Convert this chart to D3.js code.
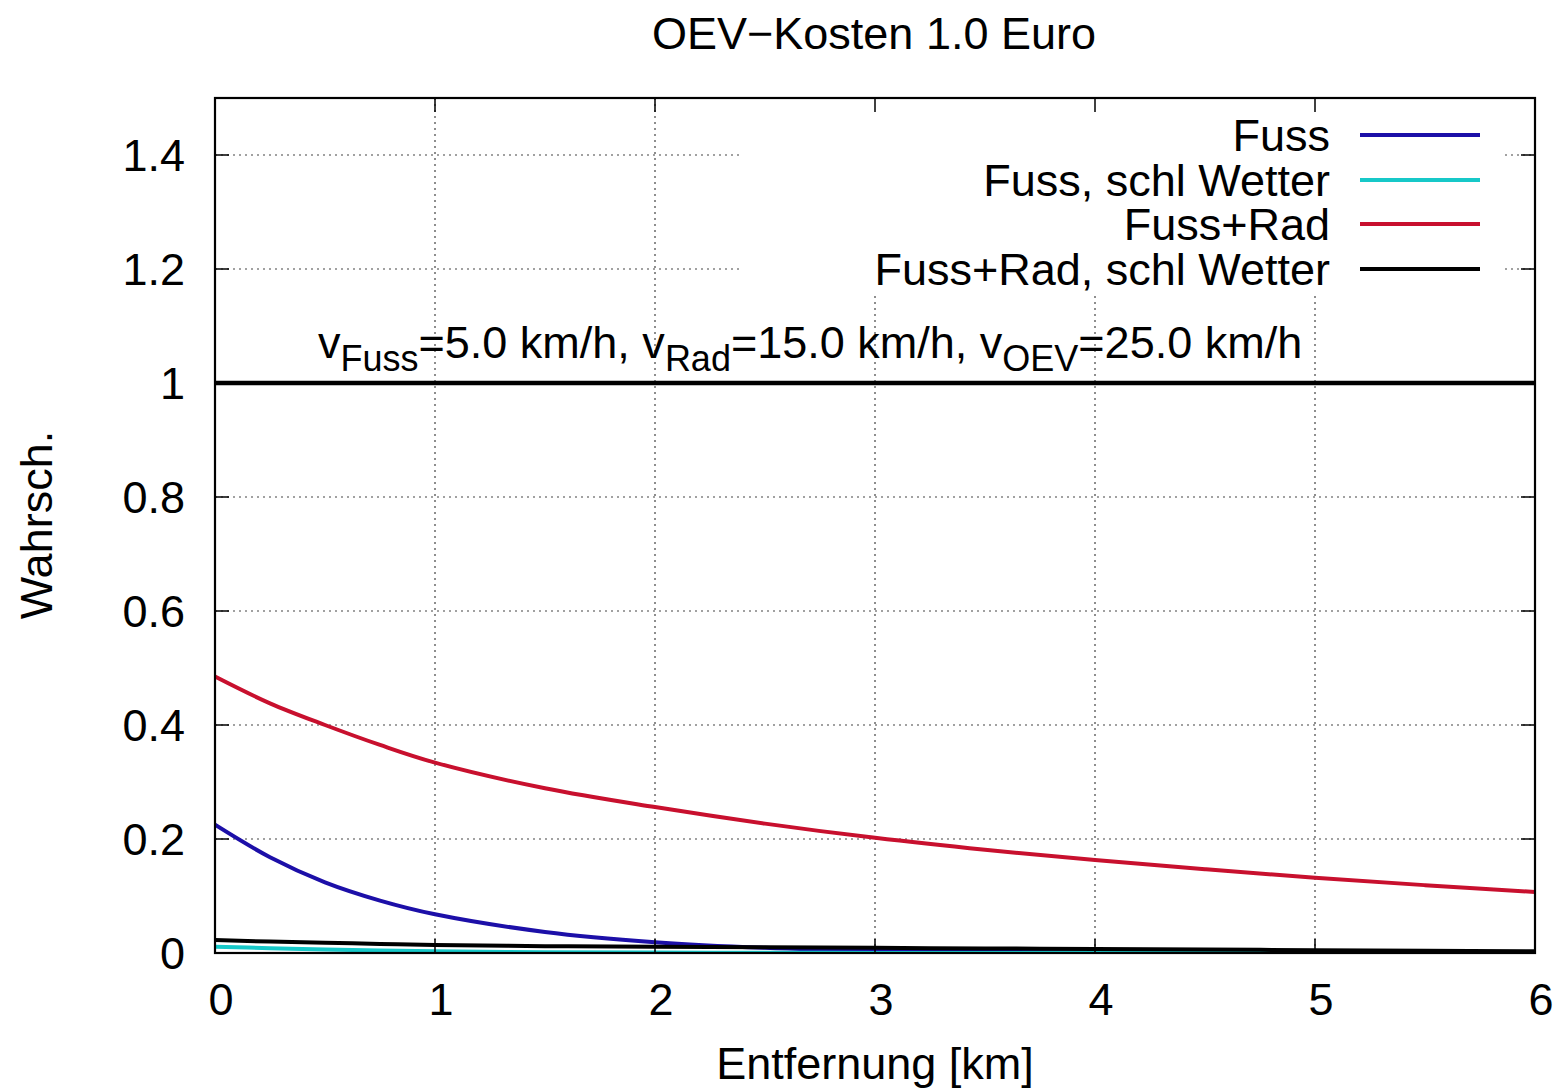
<!DOCTYPE html>
<html>
<head>
<meta charset="utf-8">
<script src="https://cdn.jsdelivr.net/npm/d3@7"></script>
<style>
  html, body { margin: 0; padding: 0; background: #fff; }
  svg { display: block; font-family: "Liberation Sans", Arial, sans-serif; }
</style>
</head>
<body>
<svg id="chart" width="1557" height="1092"></svg>
<script>
// Entfernung [km] sample positions
const entfernung = [0, 0.25, 0.5, 0.75, 1, 1.5, 2, 2.5, 3, 3.5, 4, 4.5, 5, 5.5, 6];

// Wahrscheinlichkeiten je Verkehrsmittel-Kombination
const fuss              = [0.225, 0.168, 0.124, 0.092, 0.068, 0.037, 0.019, 0.009, 0.004, 0.002, 0.001, 0.0005, 0.0002, 0.0001, 0.0];
const fussSchlWetter    = [0.011, 0.0085, 0.006, 0.0045, 0.003, 0.0015, 0.0008, 0.0004, 0.0002, 0.0001, 0.0, 0.0, 0.0, 0.0, 0.0];
const fussRad           = [0.485, 0.438, 0.400, 0.365, 0.334, 0.289, 0.256, 0.227, 0.202, 0.181, 0.163, 0.147, 0.132, 0.119, 0.107];
const fussRadSchlWetter = [0.023, 0.020, 0.018, 0.016, 0.014, 0.012, 0.011, 0.010, 0.009, 0.008, 0.007, 0.006, 0.005, 0.004, 0.003];
const gesamt            = [1, 1, 1, 1, 1, 1, 1, 1, 1, 1, 1, 1, 1, 1, 1];

const seriesNames  = ["Fuss", "Fuss, schl Wetter", "Fuss+Rad", "Fuss+Rad, schl Wetter"];
const seriesValues = [fuss, fussSchlWetter, fussRad, fussRadSchlWetter];
const seriesColors = ["#1c0fa8", "#16c8c8", "#c8102e", "#000000"];

const xTicks = [0, 1, 2, 3, 4, 5, 6];
const yTicks = [0, 0.2, 0.4, 0.6, 0.8, 1, 1.2, 1.4];

const titleText = "OEV\u2212Kosten 1.0 Euro";

const svg = d3.select("#chart");
const plotL = 215, plotR = 1535, plotT = 98, plotB = 953;

const x = d3.scaleLinear().domain([0, 6]).range([plotL, plotR]);
const y = d3.scaleLinear().domain([0, 1.5]).range([plotB, plotT]);

const fontSize = 45;
const subSize = 36;
const tickLen = 14;
const curveWidth = 4;

// grid
const grid = svg.append("g");
xTicks.slice(1, -1).forEach(t => {
  grid.append("line").attr("x1", x(t)).attr("x2", x(t)).attr("y1", plotT).attr("y2", plotB)
    .attr("stroke", "#444").attr("stroke-width", 1.2).attr("stroke-dasharray", "2,4");
});
yTicks.slice(1).forEach(t => {
  grid.append("line").attr("x1", plotL).attr("x2", plotR).attr("y1", y(t)).attr("y2", y(t))
    .attr("stroke", "#444").attr("stroke-width", 1.2).attr("stroke-dasharray", "2,4");
});

// clip for curves
svg.append("clipPath").attr("id", "plotclip").append("rect")
  .attr("x", plotL).attr("y", plotT).attr("width", plotR - plotL).attr("height", plotB - plotT);

const line = d3.line().x((d, i) => x(entfernung[i])).y(d => y(d)).curve(d3.curveCatmullRom.alpha(0.5));
const curves = svg.append("g").attr("clip-path", "url(#plotclip)");

curves.append("path").datum(gesamt).attr("d", line)
  .attr("fill", "none").attr("stroke", "#000").attr("stroke-width", 4.5);

seriesValues.forEach((vals, i) => {
  curves.append("path").datum(vals).attr("d", line)
    .attr("fill", "none").attr("stroke", seriesColors[i]).attr("stroke-width", curveWidth)
    .attr("stroke-linejoin", "round");
});

// legend box (white background hides grid behind it)
const legendRight = 1330;
const legendRows = [135, 180, 224, 269];
svg.append("rect").attr("x", 740).attr("y", plotT + 1).attr("width", 1502 - 740).attr("height", 292 - plotT)
  .attr("fill", "#fff");
seriesNames.forEach((name, i) => {
  svg.append("text").attr("x", legendRight).attr("y", legendRows[i]).attr("dy", "0.35em")
    .attr("text-anchor", "end").attr("font-size", fontSize).text(name);
  svg.append("line").attr("x1", 1360).attr("x2", 1480).attr("y1", legendRows[i]).attr("y2", legendRows[i])
    .attr("stroke", seriesColors[i]).attr("stroke-width", curveWidth);
});

// axes with mirrored ticks
const axisG = svg.append("g");
xTicks.forEach(t => {
  axisG.append("line").attr("x1", x(t)).attr("x2", x(t)).attr("y1", plotB).attr("y2", plotB - tickLen).attr("stroke", "#000").attr("stroke-width", 1.5);
  axisG.append("line").attr("x1", x(t)).attr("x2", x(t)).attr("y1", plotT).attr("y2", plotT + tickLen).attr("stroke", "#000").attr("stroke-width", 1.5);
  axisG.append("text").attr("x", x(t) + 6).attr("y", 1015).attr("text-anchor", "middle")
    .attr("font-size", fontSize).text(d3.format("d")(t));
});
yTicks.forEach(t => {
  axisG.append("line").attr("x1", plotL).attr("x2", plotL + tickLen).attr("y1", y(t)).attr("y2", y(t)).attr("stroke", "#000").attr("stroke-width", 1.5);
  axisG.append("line").attr("x1", plotR).attr("x2", plotR - tickLen).attr("y1", y(t)).attr("y2", y(t)).attr("stroke", "#000").attr("stroke-width", 1.5);
  axisG.append("text").attr("x", 185).attr("y", y(t)).attr("dy", "0.35em").attr("text-anchor", "end")
    .attr("font-size", fontSize).text(t === 0 ? "0" : (t === 1 ? "1" : d3.format(".1f")(t)));
});

// frame
svg.append("rect").attr("x", plotL).attr("y", plotT).attr("width", plotR - plotL).attr("height", plotB - plotT)
  .attr("fill", "none").attr("stroke", "#000").attr("stroke-width", 2.2);

// speed annotation
const ann = svg.append("text").attr("x", 318).attr("y", 358).attr("font-size", fontSize);
const annParts = [
  ["v", false], ["Fuss", true], ["=5.0 km/h, v", false], ["Rad", true],
  ["=15.0 km/h, v", false], ["OEV", true], ["=25.0 km/h", false]
];
let shifted = false;
annParts.forEach(([txt, sub]) => {
  const dy = sub ? 13 : (shifted ? -13 : 0);
  ann.append("tspan").attr("font-size", sub ? subSize : fontSize).attr("dy", dy).text(txt);
  shifted = sub;
});

// title & axis labels
svg.append("text").attr("x", 874).attr("y", 49).attr("text-anchor", "middle").attr("font-size", fontSize).text(titleText);
svg.append("text").attr("x", 875).attr("y", 1079).attr("text-anchor", "middle").attr("font-size", fontSize).text("Entfernung [km]");
svg.append("text").attr("transform", "translate(52,525) rotate(-90)").attr("text-anchor", "middle")
  .attr("font-size", fontSize).text("Wahrsch.");
</script>
</body>
</html>
